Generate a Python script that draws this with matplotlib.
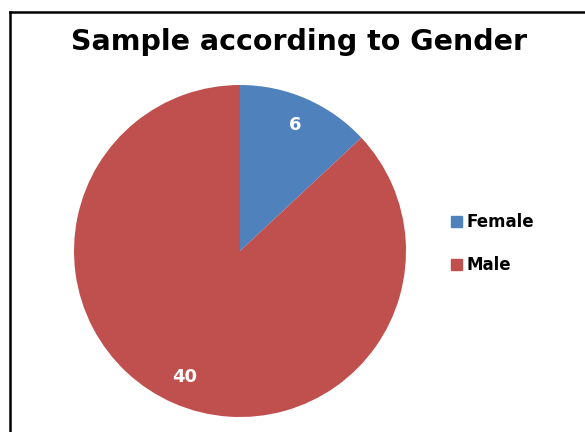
import matplotlib.pyplot as plt
from matplotlib.lines import Line2D
from matplotlib.patches import Patch

# data
labels = ['Female', 'Male']
counts = [6, 40]
colors = ['#4F81BD', '#C0504D']
title = 'Sample according to Gender'

W, H = 585, 432
fig = plt.figure(figsize=(W/100, H/100), dpi=100)

# pie centre (240, 251) px, radius 166 px
cx, cy, r = 240, 251, 166
ax = fig.add_axes([(cx-r)/W, (H-cy-r)/H, 2*r/W, 2*r/H])
wedges, texts = ax.pie(counts, colors=colors, startangle=90, counterclock=False,
                       labels=[str(c) for c in counts], labeldistance=0.83,
                       textprops=dict(color='white', fontsize=13, fontweight='bold'))
for t in texts:
    t.set_ha('center'); t.set_va('center')
ax.set_xlim(-1, 1); ax.set_ylim(-1, 1)
ax.set_aspect('auto')

fig.text(299/W, 1-42/H, title, ha='center', va='center', fontsize=20.5, fontweight='bold')

handles = [Patch(color=c) for c in colors]
fig.legend(handles, labels, loc='center left', bbox_to_anchor=(436/W, 1-244/H), frameon=False,
           handlelength=0.65, handleheight=0.65, handletextpad=0.3, labelspacing=1.5,
           prop=dict(size=12, weight='bold'))

# border (top and left only visible)
lx, ty = 9.5/W, 1-12/H
fig.add_artist(Line2D([lx, lx], [0, ty], color='black', lw=1.8))
fig.add_artist(Line2D([lx, 1], [ty, ty], color='black', lw=1.8))

fig.savefig('out.png', dpi=100)
